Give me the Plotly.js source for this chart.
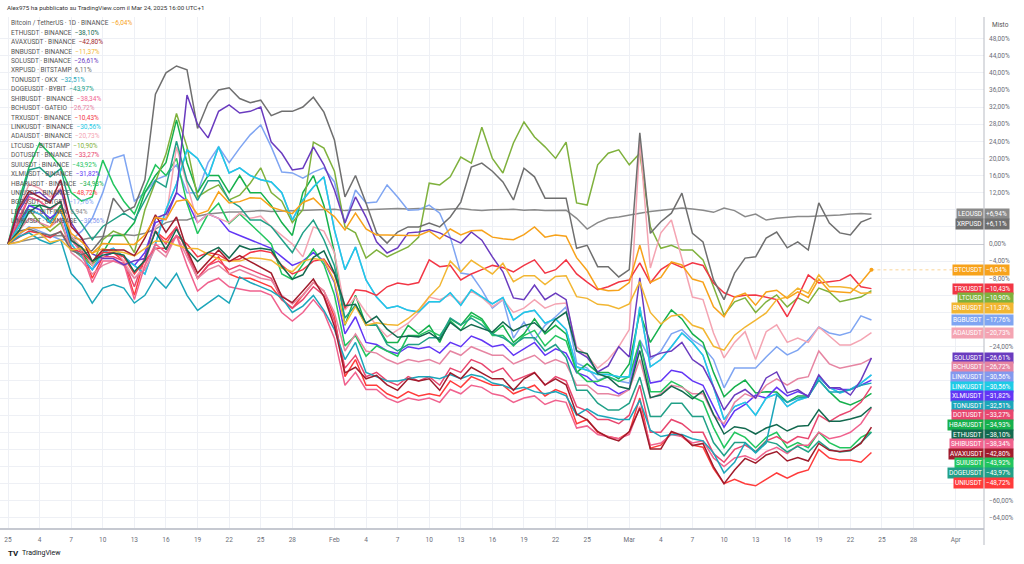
<!DOCTYPE html>
<html><head><meta charset="utf-8">
<script src="https://cdn.plot.ly/plotly-3.0.1.min.js"></script>
<style>html,body{margin:0;padding:0;background:#fff;}#chart{width:1024px;height:564px;}</style>
</head><body><div id="chart"></div>
<script>
// ---------- DATA (percent change since 1 Jan 2025, daily closes 1 Jan .. 24 Mar) ----------
const startDate = '2025-01-01';
const symbols = ['BTCUSDT','ETHUSDT','AVAXUSDT','BNBUSDT','SOLUSDT','XRPUSD','TONUSDT','DOGEUSDT','SHIBUSDT','BCHUSDT','TRXUSDT','LINKUSDT','ADAUSDT','LTCUSD','DOTUSDT','SUIUSDT','XLMUSDT','HBARUSDT','UNIUSDT','BGBUSDT','LEOUSD','LINKUSDT'];
const legendNames = ['Bitcoin / TetherUS · 1D · BINANCE','ETHUSDT · BINANCE','AVAXUSDT · BINANCE','BNBUSDT · BINANCE','SOLUSDT · BINANCE','XRPUSD · BITSTAMP','TONUSDT · OKX','DOGEUSDT · BYBIT','SHIBUSDT · BINANCE','BCHUSDT · GATEIO','TRXUSDT · BINANCE','LINKUSDT · BINANCE','ADAUSDT · BINANCE','LTCUSD · BITSTAMP','DOTUSDT · BINANCE','SUIUSDT · BINANCE','XLMUSDT · BINANCE','HBARUSDT · BINANCE','UNIUSDT · BINANCE','BGBUSDT · BITGET','LEOUSD · BITFINEX','LINKUSDT · COINBASE'];
const colors = ['#f7a21b','#13694f','#a01c2c','#f2b632','#6a3bbf','#6f6f6f','#1ca6ba','#21a087','#f0628e','#e685a2','#f23645','#1ecbe6','#f4a4b2','#7fb13d','#e8476f','#22c55e','#6236f5','#16b04c','#ff3b3b','#7fa5f2','#8a8a8a','#8399ee'];

const btc = [0,2.4,3.8,3.8,4.0,8.1,2.5,0.5,-2.2,0.1,
 0,-0.1,-0.1,2.1,6.2,5.7,10,10.4,6.9,7.8,
 12.2,9.6,9.9,10.8,10.7,8.6,7.9,7.1,9.7,10.7,
 8.3,6.4,3.3,7.2,3.5,2.1,2.1,2,2,2,
 3,1.2,3.5,2.1,3.1,3.2,1.6,1.2,1,2.2,
 4,1.6,2.1,1.8,-3.2,-6.2,-10.4,-10.9,-10.8,-9,
 -0.3,-9,-7.8,-4.2,-4.9,-8.2,-8.9,-14.7,-17,-12.4,
 -11.5,-14.3,-11.2,-10.8,-12.7,-11.2,-12.5,-8.2,-11,-11.2,
 -11.4,-9,-6.04];
const eth = [0,2.9,7.5,9.1,8.4,9.9,0.8,-0.8,-4,-2.6,
 -2.1,-2.6,-6.5,-3.8,3,-1.3,3.5,-1.4,-4.1,-2,
 -0.8,-3.3,-0.4,-1.3,-1,-1.4,-5.2,-8.2,-7.2,-3.1,
 -1.6,-6.8,-14.4,-14.1,-18.5,-16.9,-19.9,-21.8,-21.5,-21.7,
 -20.7,-22.4,-18.3,-20.2,-18.8,-19.7,-20.6,-18.2,-20.3,-19.1,
 -18.4,-20.6,-17.6,-15.9,-25,-25.6,-30.3,-31.2,-33.3,-33.9,
 -24.9,-35.9,-35.3,-33.2,-34.4,-36.2,-34.3,-39.8,-44.4,-42.7,
 -43.1,-44.4,-43,-42.2,-43.7,-42.6,-42.4,-38.7,-41.4,-41.4,
 -40.9,-40.2,-38.1];
const avax = [0,8.2,12.3,11,9.6,15,4.1,1.4,-4.1,-1.4,
 -1.4,-1.4,-2.7,1.4,6.8,2.7,6.3,-1.4,-6.8,-4.1,
 -1.4,-4.1,-2.7,-4.1,-5.5,-6.8,-12.3,-13.7,-11,-8.2,
 -12.3,-19.2,-30.1,-28.8,-31.5,-30.7,-32.9,-34.2,-31.5,-32,
 -31.5,-34.2,-30.1,-31.5,-28.8,-30.1,-31.5,-31.5,-34.2,-31.5,
 -30.1,-32.9,-31.5,-32.9,-39.7,-41.1,-43.8,-45.2,-46,-43.8,
 -38.4,-47.9,-47.9,-43.8,-44.7,-47.1,-46.6,-52,-56,-52.8,
 -50.1,-51.2,-49.3,-48.5,-50.7,-49.9,-50.7,-46.6,-48.2,-48.5,
 -48.2,-46.6,-42.8];
const bnb = [0,0.4,1.6,2.5,0.4,1,-1.4,-1,-2.1,-1.1,
 -1.7,-2,-2.8,-1,0.7,0.6,-0.3,-1,-1.1,-2.4,
 -3.5,-4,-4,-3.2,-3.4,-3.8,-5.6,-6.5,-4,-3.4,
 -3.8,-8.6,-18.8,-14.6,-19,-18.4,-18.8,-19,-17.4,-15.4,
 -12.3,-9.8,-4,-6.5,-3.8,-5.4,-7,-4.5,-8.8,-7.4,
 -7.4,-9.5,-7.6,-7.4,-12.3,-12.7,-14.1,-14.3,-15.1,-14,
 -8.8,-16,-18.7,-16.8,-16.5,-19,-19.8,-23.9,-24.8,-21.3,
 -19.4,-17.8,-16.1,-13,-12.4,-10.3,-11.5,-7.2,-10,-10,
 -10.3,-11.5,-11.37];
const sol = [0,7.5,11.6,12.1,10,12.7,4.9,1.3,-2.3,-3.4,
 -3.4,-4.9,-3.9,-3.4,6,7,12,34.8,28,24.8,
 31,32.5,30.6,31,32,23.8,21.2,17.3,17.7,22.7,
 18.5,12.6,4.9,11,6.3,0.5,-2.1,-0.9,2.6,2.8,
 3.3,2.6,1.4,0.2,2.8,0.9,-3,-6.5,-12.6,-13,
 -9.6,-13,-11.5,-13,-25,-26.5,-29.9,-28.5,-24,-26.4,
 -7.9,-26.4,-25.5,-25,-23,-27,-28.7,-33.4,-38.8,-35.3,
 -34,-36,-31.3,-29.9,-34.8,-34,-35.7,-30.6,-33.6,-33.6,
 -35.3,-31.8,-26.61];
const xrp = [0,3,3.5,2.6,2,2.8,-1.5,-2.5,-1.5,1.5,
 10.7,7.5,8.7,15,35,40,41.6,40.7,27,33,
 36,36.5,34,33,33.6,30,31,31,32,34.3,
 30.8,24.3,11,16,9.6,2.6,0.2,2.8,4,4,
 4.9,4,6.3,9.8,18,18.9,17,14.5,10.3,17.7,
 15.7,10.7,10.7,10.7,-1,-0.3,-5.3,-5.3,-7.7,-6,
 26,2.5,5.2,7.2,11.9,2.5,0.5,-8.4,-13,-6.8,
 -3.3,-3,1.4,2.8,-0.9,0.5,-1.4,9.6,4.9,2.6,
 2.1,5.1,6.11];
const ton = [0,1.7,2.6,1,0,1,-6.9,-9.5,-13.8,-10.3,
 -9.5,-10.3,-13.8,-12,-7.8,-10.3,-6.9,-12,-15.5,-13.8,
 -12,-13.8,-7.7,-9,-10,-11,-12.6,-16,-14.5,-12,
 -15.5,-20,-27,-23,-30,-31,-32,-32,-31.5,-31,
 -31,-31.5,-30.5,-31.5,-30.5,-31,-32.5,-33,-34,-33.5,
 -34.5,-35,-34.5,-35.5,-40,-38.5,-40,-40.5,-41,-41,
 -36.5,-43.5,-45,-44.5,-44.5,-45.5,-46,-48.8,-53.5,-51,
 -46.5,-48.8,-46.5,-35.3,-37,-36,-35.7,-31.8,-34.6,-34.6,
 -34,-33,-32.51];
const doge = [0,8.4,17.3,17.9,15.7,17.6,8.1,4.7,1,4.1,
 5.6,7.2,5.6,10.2,14.8,13.3,24,14.8,10.2,14.8,
 14.8,10.2,8.7,5.6,5.6,4.1,1,-2,2.6,5.6,
 1,-5.1,-17.3,-14.3,-18.9,-18.9,-23.5,-25,-23.5,-23.5,
 -21.9,-21.9,-17.3,-18.9,-17.3,-18.9,-21,-21.9,-23.5,-21.9,
 -21.9,-25,-23.5,-26.5,-34.2,-34.2,-37.2,-38.8,-38.8,-37.2,
 -31.1,-40.3,-40.3,-37.2,-37.2,-40.3,-40.3,-46.4,-49.5,-46.4,
 -46.4,-48.6,-46.1,-46.7,-48.6,-47.3,-48.6,-46.1,-48,-48.6,
 -48.3,-46.4,-43.97];
const shib = [0,6,11,10,8,10,1,-2,-9,-4,
 -4,-4.5,-13,-5,0,-2,2,-5,-11,-9,
 -8,-10,-10.5,-11,-11,-12,-16,-18,-16,-13,
 -16,-22,-33,-30,-34,-34,-36,-37,-36,-36.5,
 -36,-37,-34,-35,-33,-33.5,-35,-35.5,-37,-36,
 -35.5,-37.5,-36.5,-37,-43,-42.5,-44.5,-45,-45.5,-44.5,
 -38,-47,-46.5,-44.5,-45,-46.5,-46,-50,-52,-50,
 -49.5,-50.5,-48.5,-47.5,-49,-47,-47,-44,-45.5,-45,
 -44,-42,-38.34];
const bch = [0,3,6,5,4,6,-2,-4,-7,-5,
 -4,-5,-8,-6,-1,-3,2,-3,-8,-6,
 -5,-7,-6,-7,-8,-8.5,-12,-14,-12,-9,
 -11,-16,-25,-21,-25,-25.5,-27,-28,-27,-27.5,
 -27,-28,-25,-26,-24,-25,-26,-26,-28,-27,
 -26,-28,-27,-28,-33,-33,-35,-35,-35.5,-34,
 -27,-36,-35,-33,-33.5,-35,-35,-40,-42,-37,
 -35,-36,-33,-31.5,-33,-31.5,-31,-25,-28,-29,
 -28.5,-28,-26.72];
const trx = [0,1.5,3,2.5,1.5,3,-1,-2,-4,-2,
 -2,-3,-7,-4,-1,-1,2,0,-3,-2,
 -2.5,-4,-3.5,-2,-1.5,-2,-5,-7,-6,-4,
 -3.5,-7,-15,-10.7,-11,-12,-10,-9.1,-9.5,-9,
 -3.7,-5.3,-5,-8.4,-7,-6,-5,-5.5,-6.5,-5,
 -3.7,-6.8,-6,-3.7,-7,-8.9,-10.7,-10,-8.9,-8.4,
 -4.4,-9.1,-6,-4.4,-5.5,-4.4,-5,-9.1,-11.4,-12.4,
 -12,-11.9,-12.5,-13,-17,-12.4,-7.2,-9.1,-8.8,-8.5,
 -7.2,-10,-10.43];
const link = [0,4,8,7,5,8,0,-3,-6,-2,
 -1,-3,-5,-7,0,8,14,22,20,15.7,
 22.7,16.6,17.8,16,15,14.5,12,5.6,10.3,13.3,
 15.7,3.3,-6,-0.7,-8.4,-12.4,-15,-14.5,-15.5,-15.9,
 -13.5,-13.5,-11.4,-14.3,-10.7,-12.4,-14,-12.5,-17.8,-16,
 -15.5,-18.5,-17.5,-20,-28.7,-29.5,-30.5,-30.5,-31,-31,
 -14.7,-28.7,-27,-24,-20.8,-23,-26,-33.4,-41,-38,
 -37,-40,-36,-35,-38,-36.5,-35.7,-31,-33.5,-34.8,
 -34,-32.5,-30.56];
const ada = [0,8,14,13,11,13,2,-1,-5,-3,
 -1,-4,-8,-5,4,6,22.7,14,5,7,
 6,5,7.2,6,6.5,4,2,0,-3,4,
 3,-2,-15.4,-12.4,-16,-19,-21.7,-20,-18.5,-16,
 -12.4,-13,-11.9,-13.8,-11,-12.5,-14.7,-13,-16,-15,
 -13,-15,-14,-13.8,-24,-26,-29,-27,-24,-20,
 24,-5.6,2.6,5.6,-3.7,-12.4,-13,-20.8,-26.6,-23,
 -20.5,-27,-20.5,-18.9,-23,-22,-23,-19.4,-21.5,-23.6,
 -23.6,-22.4,-20.73];
const ltc = [0,4,8,5,3,5,-1,-3,-5,1,
 3,2,-2,8,14.5,21,30.5,22.7,11,12.6,
 13.8,10.3,11.4,14.2,17.8,12,10,5,8,23.8,
 22.4,17,4,2.6,-3.3,-1.4,-3,-1.9,-0.7,1.6,
 14.2,13.8,15.7,20.3,18.9,27.3,20,16.6,23.6,28.5,
 25,22.7,20,23.8,9.6,9.1,18.5,21.2,22,18.5,
 21.2,4,-1,-0.3,-1.4,-1.4,-3.7,-10,-16.6,-13.5,
 -12.6,-16,-13.5,-11.9,-14.7,-12.6,-13.8,-10.3,-11.2,-13.5,
 -12.9,-12.4,-10.9];
const dot = [0,5,11,10,8,10,1,-1,-5,-3,
 -3,-4,-10,-3,3,0,4,-2,-8,-5,
 -4,-6,-5,-6,-7,-8,-13,-15,-13,-10,
 -12,-18,-29,-26,-31,-30,-32,-33,-31,-32,
 -31,-33,-29,-30,-27,-28,-30,-29,-32,-31,
 -30,-33,-31,-32,-38,-39,-41,-41,-42,-40,
 -33,-44,-44,-41,-42,-44,-44,-49,-51,-48,
 -47,-48.5,-46,-45,-46.5,-45,-45.5,-40,-41.5,-40,
 -39,-37,-33.27];
const sui = [0,10,18,23.6,21,18,12,10,11,19.6,
 14,10,7,13,18.5,16,20,9.5,2.4,7,
 9.5,4.8,7,4.8,2.4,0,-7,-8.3,-4.8,-1.2,
 -4.8,-11.9,-23.8,-21.4,-26.2,-23.8,-25,-26.2,-21.4,-21.4,
 -20.2,-21.4,-17.9,-20.2,-16.7,-17.9,-21.4,-21.4,-23.8,-21.4,
 -20.2,-23.8,-21.4,-22.6,-29.8,-32.1,-32.1,-31,-32.1,-31,
 -22.6,-34.5,-34.5,-32.1,-33.3,-35.7,-36.9,-42.9,-47.6,-44,
 -45.2,-47.6,-45.2,-44,-47.6,-46.4,-47.6,-44,-46.4,-47.6,
 -47.6,-45.2,-43.92];
const xlm = [0,4,9,8,6,8,-1,-3,-6,-3,
 -2,-3,-5,-2,5,6,12,10,5,7,
 6,3,2,1,0,-1,-3,-5,-4,-2,
 -4,-9,-21,-17,-23,-23.5,-25,-25.6,-24,-24.5,
 -24,-25.5,-23,-24,-21.5,-22.5,-24,-23.5,-26,-24.5,
 -23,-26,-24.5,-25.5,-30,-31,-33,-33.5,-35,-34,
 -23,-32.5,-32,-29.5,-30,-32,-33,-38,-42.8,-39,
 -37.5,-35.3,-36,-33.5,-35.5,-34.5,-35.5,-31,-33.5,-34,
 -34,-33,-31.82];
const hbar = [0,5,9,9,5,9,2,-2,-5,-2,
 2,2,5,12,16,19,29,19,12,16,
 16,12,16,12,12,9,5,2,12,16,
 9,-2,-19,-12,-19,-19,-23,-23,-19,-21,
 -19,-23,-17.5,-19,-16,-17.5,-21,-19,-23,-21,
 -17.5,-21,-19,-21,-30,-28,-30,-30,-31.5,-28,
 -16,-23,-19,-15.4,-17.5,-21,-23,-30,-35.7,-33.4,
 -31.8,-34.8,-34.5,-34.6,-37,-35.5,-35.5,-31.8,-34.5,-36.8,
 -37.6,-36.5,-34.93];
const uni = [0,4,8,7,5,9,1,-1,-8,-3,
 -2,-4,-12,-3,3,1,4,-2,-8,-5,
 -3,-7,-8,-8,-9,-10,-13,-15,-12,-9,
 -11,-17,-31,-27,-33,-33,-35,-36,-34.5,-35.5,
 -35,-35.5,-32,-33.5,-31,-32,-33,-33,-35,-34,
 -33,-35.5,-34,-35,-42,-41,-44,-45,-45.5,-44,
 -36,-47.7,-47,-44,-45,-47,-47.5,-52.5,-56,-55,
 -56,-56.5,-55,-53.5,-54.7,-53.5,-52.8,-48,-50,-50.5,
 -50.5,-51,-48.72];
const bgb = [0,2,4,3,2,1,1,3,6,12,
 20,20.8,10,12,15,16,18.5,12,12,19,
 22.7,19,22.4,25.5,27.8,22.7,16.8,16.6,15.4,16.8,
 17.8,14.5,4.9,12.6,9.6,9.8,13.8,11,7.9,8,
 9.1,7.2,1.6,-6.8,-7.2,-10.7,-15,-13,-22,-18.2,
 -22.4,-19,-17,-14.7,-27.8,-29,-31.8,-31,-32,-32.5,
 -22.4,-27,-25,-21,-20,-22.4,-24,-27,-33.6,-29,
 -29,-29,-26.4,-24,-25.9,-24.8,-22.4,-19.4,-20.8,-21.3,
 -20.6,-16.8,-17.76];
const leo = [0,0.5,1,1.5,1.8,2,1.5,1,1.5,1.8,
 2,2.2,2,2.5,3.5,5,5.6,5.6,6.5,7,
 7.2,7.5,7.5,7.6,7.8,7.6,7.7,7.8,7.8,8,
 8,8.1,7.8,8,8,8.1,8.2,8.3,8.2,8.3,
 8.2,8,8.2,8.3,8,7.8,8,8,8.1,7.9,
 8,7.8,7.8,7.9,6,3.5,5,6,6.3,6.8,
 7.2,7.6,7.9,8.2,8.4,8.2,7.9,7.4,8.4,7.8,
 6.4,7,5.6,6,6.2,6.4,6.4,6.5,6.6,6.8,
 7,7.1,6.94];
const link2 = link;

const seriesData = [btc,eth,avax,bnb,sol,xrp,ton,doge,shib,bch,trx,link,ada,ltc,dot,sui,xlm,hbar,uni,bgb,leo,link2];

const xTickDates = ['2025-01-01','2025-01-04','2025-01-07','2025-01-10','2025-01-13','2025-01-16','2025-01-19','2025-01-22','2025-01-25','2025-01-28',
 '2025-02-01','2025-02-04','2025-02-07','2025-02-10','2025-02-13','2025-02-16','2025-02-19','2025-02-22','2025-02-25',
 '2025-03-01','2025-03-04','2025-03-07','2025-03-10','2025-03-13','2025-03-16','2025-03-19','2025-03-22','2025-03-25','2025-03-28','2025-04-01'];
const xTickLabels = ['25','4','7','10','13','16','19','22','25','28','Feb','4','7','10','13','16','19','22','25','Mar','4','7','10','13','16','19','22','25','28','Apr'];
const yTickVals = [-64,-60,-56,-52,-48,-44,-40,-36,-32,-28,-24,-20,-16,-12,-8,-4,0,4,8,12,16,20,24,28,32,36,40,44,48];

// ---------- LAYOUT ----------
const W = 1024, H = 564, ML = 0, MR = 40, MT = 17, MB = 36;
const PW = W - ML - MR, PH = H - MT - MB;
const yMin = -66.36, yMax = 53.04;
const fx = px => (px - ML) / PW;
const fy = py => 1 - (py - MT) / PH;
const FONT = 'Roboto, "Liberation Sans", Arial, sans-serif';

function fmt(v, plus) {
  const s = Math.abs(v).toFixed(2).replace('.', ',') + '%';
  if (v < 0) return '\u2212' + s;
  return (plus ? '+' : '') + s;
}

const dates = [];
{
  const d0 = new Date(startDate + 'T00:00:00Z');
  for (let i = 0; i < btc.length; i++) {
    const d = new Date(d0.getTime() + i * 86400000);
    dates.push(d.toISOString().slice(0, 10));
  }
}

const traces = [];
for (let i = seriesData.length - 1; i >= 0; i--) {
  traces.push({
    x: dates, y: seriesData[i], type: 'scatter', mode: 'lines',
    line: {color: colors[i], width: 1.5}, hoverinfo: 'skip', showlegend: false
  });
}
traces.push({x: [dates[btc.length - 1]], y: [btc[btc.length - 1]], type: 'scatter', mode: 'markers',
  marker: {color: colors[0], size: 4}, hoverinfo: 'skip', showlegend: false});

const annotations = [];
annotations.push({xref: 'paper', yref: 'paper', x: fx(5), y: fy(8), xanchor: 'left', yanchor: 'middle',
  text: 'Alex975 ha pubblicato su TradingView.com il Mar 24, 2025 16:00 UTC+1', showarrow: false,
  font: {family: FONT, size: 6.2, color: '#333'}});
seriesData.forEach((d, i) => {
  const last = d[d.length - 1];
  annotations.push({xref: 'paper', yref: 'paper', x: fx(9), y: fy(23.3 + i * 9.43), xanchor: 'left', yanchor: 'middle',
    text: legendNames[i] + '  <span style="color:' + colors[i] + '">' + fmt(last, false) + '</span>',
    showarrow: false, font: {family: FONT, size: 6.5, color: '#555'}});
});

// right labels pushed apart
const pxPerUnit = PH / (yMax - yMin);
const toPy = v => MT + (yMax - v) * pxPerUnit;
const gapUnits = 9.6 / pxPerUnit;
const order = seriesData.map((d, i) => ({i: i, v: d[d.length - 1]})).sort((a, b) => (b.v - a.v) || (b.i - a.i));
let prev = Infinity;
const labelPys = [];
order.forEach(o => {
  const y = Math.min(o.v, prev - gapUnits);
  prev = y;
  labelPys.push(toPy(y));
  annotations.push({xref: 'paper', yref: 'y', x: 1, y: y, xanchor: 'right', yanchor: 'middle',
    text: symbols[o.i], showarrow: false, bgcolor: colors[o.i], borderpad: 1,
    font: {family: FONT, size: 6.5, color: '#fff'}});
  annotations.push({xref: 'paper', yref: 'y', x: 1, y: y, xanchor: 'left', yanchor: 'middle',
    text: fmt(o.v, true) + ' ', showarrow: false, bgcolor: colors[o.i], borderpad: 1,
    font: {family: FONT, size: 6.5, color: '#fff'}});
});
// tick labels hidden where a series label covers them
const yTickText = yTickVals.map(v => {
  const py = toPy(v);
  return labelPys.some(l => Math.abs(l - py) < 8) ? '' : fmt(v, false);
});

annotations.push({xref: 'paper', yref: 'paper', x: fx(1000), y: fy(25), xanchor: 'center', yanchor: 'middle',
  text: 'Misto', showarrow: false, font: {family: FONT, size: 6.5, color: '#555'}});
annotations.push({xref: 'paper', yref: 'paper', x: fx(6), y: fy(553), xanchor: 'left', yanchor: 'middle',
  text: '<b>TV</b>', showarrow: false, font: {family: FONT, size: 8, color: '#131722'}});
annotations.push({xref: 'paper', yref: 'paper', x: fx(20), y: fy(553), xanchor: 'left', yanchor: 'middle',
  text: 'TradingView', showarrow: false, font: {family: FONT, size: 7, color: '#131722'}});

const shapes = [
  {type: 'line', xref: 'x', yref: 'y', x0: dates[btc.length - 1], x1: '2025-04-03 16:30', y0: btc[btc.length - 1], y1: btc[btc.length - 1],
    line: {color: 'rgba(247,162,27,0.45)', width: 1, dash: 'dot'}},
  {type: 'line', xref: 'paper', yref: 'paper', x0: 1, x1: 1, y0: fy(545), y1: fy(MT), line: {color: '#b8bbc3', width: 1}}
];

const layout = {
  width: W, height: H, margin: {l: ML, r: MR, t: MT, b: MB},
  paper_bgcolor: '#fff', plot_bgcolor: '#fff', showlegend: false,
  xaxis: {type: 'date', range: ['2024-12-31 05:45', '2025-04-03 16:30'], tickvals: xTickDates, ticktext: xTickLabels,
    showgrid: true, gridcolor: '#eef0f5', gridwidth: 1, zeroline: false, showline: true, linecolor: '#c6c9d1', linewidth: 1.5,
    ticks: '', tickfont: {family: FONT, size: 6.5, color: '#6a6d78'}, ticklabelstandoff: 5, fixedrange: true},
  yaxis: {side: 'right', range: [yMin, yMax], tickvals: yTickVals, ticktext: yTickText,
    showgrid: true, gridcolor: '#eef0f5', gridwidth: 1, zeroline: true, zerolinecolor: '#c9ccd4', zerolinewidth: 1,
    showline: false, ticks: '', tickfont: {family: FONT, size: 6.5, color: '#6a6d78'}, ticklabelstandoff: 4, fixedrange: true},
  annotations: annotations, shapes: shapes
};

Plotly.newPlot('chart', traces, layout, {displayModeBar: false, staticPlot: true});
</script>
</body></html>
